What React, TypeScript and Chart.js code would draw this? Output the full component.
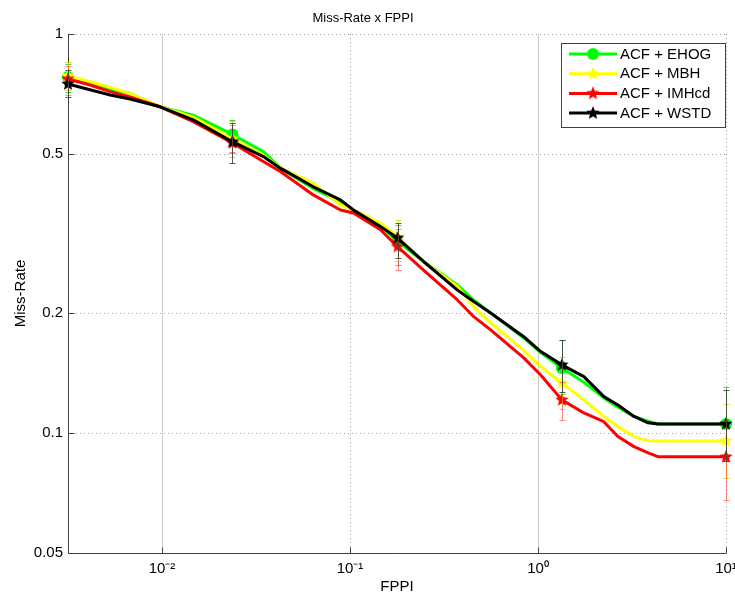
import React, { useEffect, useRef } from 'react';
import { Chart, registerables } from 'chart.js';

Chart.register(...registerables);

const FONT = "'Liberation Sans', Arial, Helvetica, sans-serif";

// ---- data ----
const fppi = [
  0.00316, 0.00414, 0.0053, 0.00676, 0.00977, 0.01466, 0.0237, 0.0346, 0.0426, 0.0638,
  0.0889, 0.1043, 0.1452, 0.179, 0.246, 0.373, 0.455, 0.56, 0.84, 1.034,
  1.34, 1.754, 2.24, 2.66, 3.24, 3.85, 4.35, 10,
];
const ehog = [
  0.78, 0.755, 0.727, 0.71, 0.657, 0.626, 0.56, 0.507, 0.461, 0.41,
  0.379, 0.362, 0.331, 0.302, 0.269, 0.235, 0.2154, 0.2, 0.173, 0.159,
  0.1455, 0.134, 0.1224, 0.116, 0.11, 0.107, 0.1053, 0.1053,
];
const mbh = [
  0.785, 0.76, 0.735, 0.71, 0.657, 0.619, 0.545, 0.497, 0.461, 0.423,
  0.373, 0.362, 0.336, 0.31, 0.269, 0.233, 0.207, 0.1887, 0.161, 0.1466,
  0.1334, 0.121, 0.11, 0.1037, 0.0979, 0.0956, 0.0955, 0.0955,
];
const imhcd = [
  0.771, 0.745, 0.717, 0.695, 0.657, 0.603, 0.533, 0.479, 0.452, 0.395,
  0.362, 0.356, 0.323, 0.293, 0.256, 0.2154, 0.1956, 0.1812, 0.1542, 0.1397,
  0.121, 0.1122, 0.1067, 0.0979, 0.0924, 0.0891, 0.0872, 0.0871,
];
const wstd = [
  0.749, 0.725, 0.703, 0.687, 0.657, 0.609, 0.537, 0.493, 0.461, 0.414,
  0.384, 0.362, 0.329, 0.308, 0.269, 0.228, 0.2134, 0.1999, 0.1743, 0.1599,
  0.1481, 0.1384, 0.1233, 0.1175, 0.11, 0.106, 0.1053, 0.1053,
];
const markerFppi = [0.00316, 0.0237, 0.179, 1.34, 10];
const ehogErr = [[0.716, 0.841], [0.503, 0.609], [0.264, 0.332], [0.125, 0.171], [0.085, 0.13]];
const mbhErr = [[0.724, 0.851], [0.492, 0.605], [0.27, 0.342], [0.115, 0.155], [0.077, 0.118]];
const imhcdErr = [[0.703, 0.831], [0.505, 0.59], [0.256, 0.325], [0.108, 0.134], [0.068, 0.107]];
const wstdErr = [[0.695, 0.812], [0.475, 0.598], [0.275, 0.336], [0.127, 0.171], [0.085, 0.128]];
const seriesNames = ['ACF + EHOG', 'ACF + MBH', 'ACF + IMHcd', 'ACF + WSTD'];
const xTicks = [0.01, 0.1, 1, 10];
const xTickLabels = ['10\u207B\u00B2', '10\u207B\u00B9', '10\u2070', '10\u00B9'];
const yTicks = [0.05, 0.1, 0.2, 0.5, 1];
const yTickLabels = ['0.05', '0.1', '0.2', '0.5', '1'];
const titleText = 'Miss-Rate x FPPI';
const xTitle = 'FPPI';
const yTitle = 'Miss-Rate';

const colors = ['#00ff00', '#ffff00', '#ff0000', '#000000'];
const errColors = ['rgba(0,200,0,0.7)', 'rgba(210,210,0,0.8)', 'rgba(255,60,60,0.6)', 'rgba(60,60,60,0.85)'];

function makeStar(color: string, r: number): HTMLCanvasElement {
  const c = document.createElement('canvas');
  const s = Math.ceil(r * 2 + 2);
  c.width = s;
  c.height = s;
  const g = c.getContext('2d')!;
  g.beginPath();
  for (let i = 0; i < 10; i++) {
    const ang = -Math.PI / 2 + (i * Math.PI) / 5;
    const rr = i % 2 === 0 ? r : r * 0.45;
    g.lineTo(s / 2 + rr * Math.cos(ang), s / 2 + rr * Math.sin(ang));
  }
  g.closePath();
  g.fillStyle = color;
  g.fill();
  return c;
}

export default function App() {
  const ref = useRef<HTMLCanvasElement | null>(null);

  useEffect(() => {
    if (!ref.current) return;
    const series = [ehog, mbh, imhcd, wstd];
    const errs = [ehogErr, mbhErr, imhcdErr, wstdErr];
    const stars = [null, makeStar(colors[1], 7), makeStar(colors[2], 7), makeStar(colors[3], 7)];
    const isMarker = (i: number) => markerFppi.includes(fppi[i]);

    const datasets = series.map((vals, k) => ({
      label: seriesNames[k],
      data: fppi.map((x, i) => ({ x, y: vals[i] })),
      borderColor: colors[k],
      backgroundColor: colors[k],
      borderWidth: 3,
      tension: 0,
      borderJoinStyle: 'round' as const,
      borderCapStyle: 'round' as const,
      pointStyle: k === 0 ? 'circle' : (stars[k] as any),
      pointRadius: (ctx: any) => (ctx.dataIndex !== undefined && isMarker(ctx.dataIndex) ? 6 : 0),
      pointBorderWidth: 0,
      pointHoverRadius: 0,
      clip: false as any,
      order: 4 - k,
    }));

    const gridPlugin = {
      id: 'matlabGrid',
      beforeDatasetsDraw(chart: any) {
        const { ctx, chartArea: a, scales } = chart;
        const xs = scales.x;
        const ys = scales.y;
        ctx.save();
        ctx.lineWidth = 1;
        // horizontal dotted grid
        ctx.strokeStyle = '#a0a0a0';
        ctx.setLineDash([1, 3]);
        yTicks.forEach((v) => {
          if (v === yTicks[0]) return;
          const py = Math.round(ys.getPixelForValue(v)) + 0.5;
          ctx.beginPath();
          ctx.moveTo(a.left, py);
          ctx.lineTo(a.right, py);
          ctx.stroke();
        });
        // vertical grid
        xTicks.forEach((v, i) => {
          const px = Math.round(xs.getPixelForValue(v)) + 0.5;
          if (i % 2 === 0) {
            ctx.setLineDash([]);
            ctx.strokeStyle = '#c8c8c8';
          } else {
            ctx.setLineDash([1, 3]);
            ctx.strokeStyle = '#a0a0a0';
          }
          ctx.beginPath();
          ctx.moveTo(px, a.top);
          ctx.lineTo(px, a.bottom);
          ctx.stroke();
        });
        // axes
        ctx.setLineDash([]);
        ctx.strokeStyle = '#404040';
        const L = Math.round(a.left) + 0.5;
        const B = Math.round(a.bottom) + 0.5;
        ctx.beginPath();
        ctx.moveTo(L, a.top);
        ctx.lineTo(L, B);
        ctx.lineTo(a.right, B);
        ctx.stroke();
        // inward ticks
        yTicks.forEach((v) => {
          const py = Math.round(ys.getPixelForValue(v)) + 0.5;
          ctx.beginPath();
          ctx.moveTo(L, py);
          ctx.lineTo(L + 6, py);
          ctx.stroke();
        });
        xTicks.forEach((v) => {
          const px = Math.round(xs.getPixelForValue(v)) + 0.5;
          ctx.beginPath();
          ctx.moveTo(px, B);
          ctx.lineTo(px, B - 6);
          ctx.stroke();
        });
        ctx.restore();
      },
    };

    const errPlugin = {
      id: 'errBars',
      afterDatasetsDraw(chart: any) {
        const { ctx, scales } = chart;
        const xs = scales.x;
        const ys = scales.y;
        ctx.save();
        ctx.lineWidth = 1;
        [0, 1, 2, 3].forEach((k) => {
          ctx.strokeStyle = errColors[k];
          errs[k].forEach((e, j) => {
            const px = Math.round(xs.getPixelForValue(markerFppi[j])) + 0.5;
            const p1 = Math.round(ys.getPixelForValue(e[0])) + 0.5;
            const p2 = Math.round(ys.getPixelForValue(e[1])) + 0.5;
            ctx.beginPath();
            ctx.moveTo(px, p1);
            ctx.lineTo(px, p2);
            ctx.moveTo(px - 3, p1);
            ctx.lineTo(px + 3, p1);
            ctx.moveTo(px - 3, p2);
            ctx.lineTo(px + 3, p2);
            ctx.stroke();
          });
        });
        ctx.restore();
      },
    };

    const legendPlugin = {
      id: 'matlabLegend',
      afterDraw(chart: any) {
        const { ctx } = chart;
        ctx.save();
        const bx = 561.5, by = 43.5, bw = 164, bh = 84;
        ctx.fillStyle = '#ffffff';
        ctx.fillRect(bx, by, bw, bh);
        ctx.strokeStyle = '#404040';
        ctx.lineWidth = 1;
        ctx.strokeRect(bx, by, bw, bh);
        chart.data.datasets.forEach((ds: any, k: number) => {
          const y = 54 + k * 19.7;
          ctx.strokeStyle = colors[k];
          ctx.lineWidth = 3;
          ctx.beginPath();
          ctx.moveTo(569, y);
          ctx.lineTo(617, y);
          ctx.stroke();
          if (k === 0) {
            ctx.fillStyle = colors[k];
            ctx.beginPath();
            ctx.arc(593, y, 6, 0, Math.PI * 2);
            ctx.fill();
          } else {
            const s = stars[k] as HTMLCanvasElement;
            ctx.drawImage(s, 593 - s.width / 2, y - s.height / 2);
          }
          ctx.fillStyle = '#000000';
          ctx.font = `15px ${FONT}`;
          ctx.textBaseline = 'middle';
          ctx.textAlign = 'left';
          ctx.fillText(ds.label, 620, y + 0.5);
        });
        ctx.restore();
      },
    };

    const chart = new Chart(ref.current, {
      type: 'line',
      data: { datasets: datasets as any },
      options: {
        animation: false,
        responsive: false,
        devicePixelRatio: 1,
        layout: { padding: { left: 0, right: 9, top: 0, bottom: 0 } },
        plugins: {
          legend: { display: false },
          tooltip: { enabled: false },
          title: {
            display: true,
            text: titleText,
            color: '#000',
            font: { family: FONT, size: 13, weight: 'normal' },
            padding: { top: 10.2, bottom: 8.2 },
          },
        },
        scales: {
          x: {
            type: 'logarithmic',
            min: 0.0031623,
            max: 10,
            grid: { display: false, drawTicks: false },
            border: { display: false },
            afterBuildTicks: (s: any) => {
              s.ticks = xTicks.map((v) => ({ value: v }));
            },
            afterFit: (s: any) => {
              s.height = 43;
              s.paddingLeft = 0;
              s.paddingRight = 0;
            },
            ticks: {
              autoSkip: false,
              maxRotation: 0,
              padding: 7,
              color: '#000',
              font: { family: FONT, size: 15 },
              callback: (_v: any, i: number) => xTickLabels[i],
            },
            title: {
              display: true,
              text: xTitle,
              color: '#000',
              font: { family: FONT, size: 15 },
              padding: { top: 0, bottom: 0 },
            },
          },
          y: {
            type: 'logarithmic',
            min: 0.05,
            max: 1,
            grid: { display: false, drawTicks: false },
            border: { display: false },
            afterBuildTicks: (s: any) => {
              s.ticks = yTicks.map((v) => ({ value: v }));
            },
            afterFit: (s: any) => {
              s.width = 68;
              s.paddingTop = 0;
              s.paddingBottom = 0;
            },
            ticks: {
              autoSkip: false,
              padding: 5,
              color: '#000',
              font: { family: FONT, size: 15 },
              callback: (_v: any, i: number) => yTickLabels[i],
            },
            title: {
              display: true,
              text: yTitle,
              color: '#000',
              font: { family: FONT, size: 15 },
              padding: { top: 12, bottom: 0 },
            },
          },
        },
      },
      plugins: [gridPlugin, errPlugin, legendPlugin],
    });
    return () => chart.destroy();
  }, []);

  return (
    <div style={{ position: 'fixed', left: 0, top: 0, width: 735, height: 596, background: '#fff' }}>
      <canvas ref={ref} width={735} height={596} style={{ display: 'block' }} />
    </div>
  );
}
